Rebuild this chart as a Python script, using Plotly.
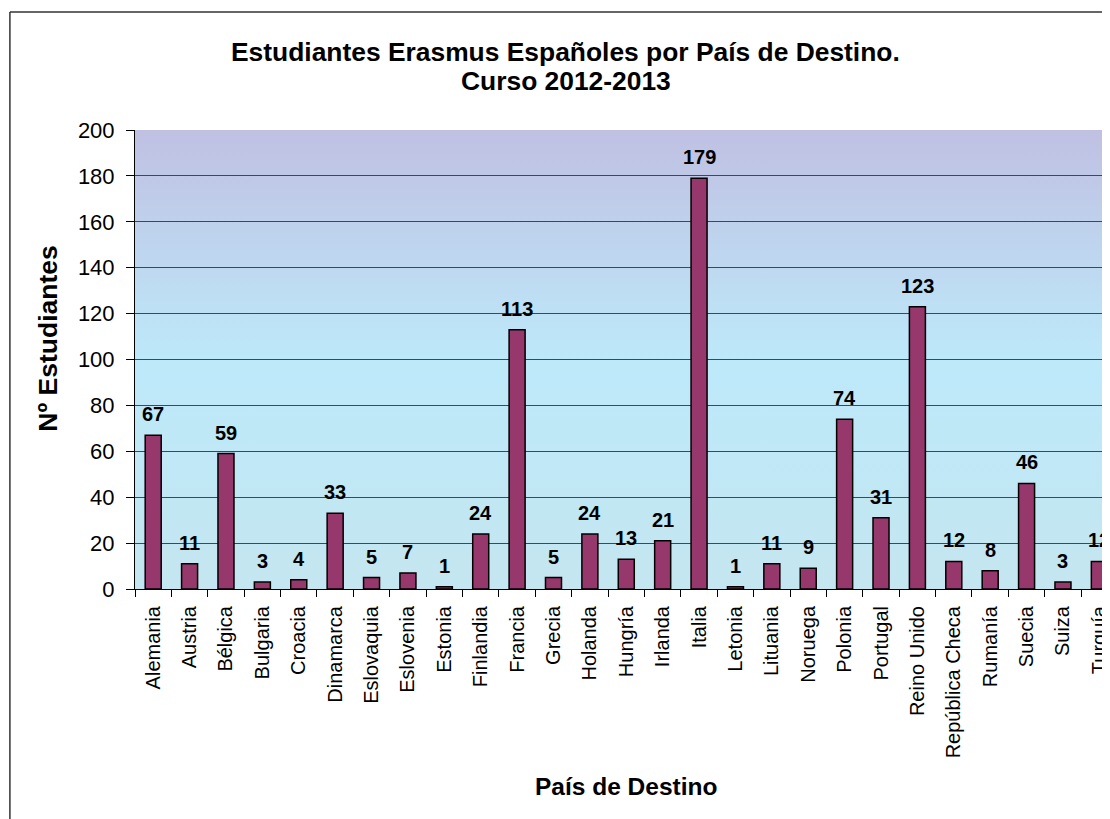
import base64
import plotly.graph_objects as go

# ---- data ----
paises = ["Alemania", "Austria", "Bélgica", "Bulgaria", "Croacia", "Dinamarca",
          "Eslovaquia", "Eslovenia", "Estonia", "Finlandia", "Francia", "Grecia",
          "Holanda", "Hungría", "Irlanda", "Italia", "Letonia", "Lituania",
          "Noruega", "Polonia", "Portugal", "Reino Unido", "República Checa",
          "Rumanía", "Suecia", "Suiza", "Turquía"]
estudiantes = [67, 11, 59, 3, 4, 33, 5, 7, 1, 24, 113, 5, 24, 13, 21, 179, 1, 11,
               9, 74, 31, 123, 12, 8, 46, 3, 12]
y_ticks = [0, 20, 40, 60, 80, 100, 120, 140, 160, 180, 200]

titulo_1 = "Estudiantes Erasmus Españoles por País de Destino."
titulo_2 = "Curso 2012-2013"
titulo_x = "País de Destino"
titulo_y = "Nº Estudiantes"

# ---- layout geometry ----
# page offset of the figure (default body margin of the html page)
OFF = 8
W, H = 1110 - OFF, 819 - OFF
PLOT_L, PLOT_T, PLOT_B = 135, 130, 589      # page pixels
ML, MR, MT = PLOT_L - OFF, 0, PLOT_T - OFF
MB = H - (PLOT_B - OFF)
PW, PH = W - ML - MR, H - MT - MB


def px_x(px):  # page pixel -> paper x
    return (px - OFF - ML) / PW


def px_y(py):  # page pixel -> paper y
    return (PLOT_B - py) / PH


FONT = "Liberation Sans, Arial, sans-serif"

svg = ('<svg xmlns="http://www.w3.org/2000/svg" width="100" height="100" '
       'viewBox="0 0 100 100" preserveAspectRatio="none"><defs>'
       '<linearGradient id="g" x1="0" y1="0" x2="0" y2="1">'
       '<stop offset="0" stop-color="#c0c0e2"/>'
       '<stop offset="0.5" stop-color="#bde9fa"/>'
       '<stop offset="1" stop-color="#c4e6f0"/>'
       '</linearGradient></defs>'
       '<rect x="0" y="0" width="100" height="100" fill="url(#g)"/></svg>')
svg_uri = "data:image/svg+xml;base64," + base64.b64encode(svg.encode()).decode()

fig = go.Figure()
fig.add_trace(go.Bar(
    x=paises, y=estudiantes,
    marker=dict(color="#96386b", line=dict(color="#000000", width=1.5)),
    hoverinfo="x+y",
))

annotations = []
for p, v in zip(paises, estudiantes):
    annotations.append(dict(
        x=p, y=v, xref="x", yref="y", text=str(v), showarrow=False,
        yanchor="bottom", yshift=8,
        font=dict(family=FONT, size=20, color="#000000", weight="bold")))

annotations += [
    dict(x=px_x(569), y=px_y(52), xref="paper", yref="paper", text="<b>%s</b>" % titulo_1,
         showarrow=False, xanchor="center", yanchor="middle",
         font=dict(family=FONT, size=26.4, color="#000000")),
    dict(x=px_x(569), y=px_y(81), xref="paper", yref="paper", text="<b>%s</b>" % titulo_2,
         showarrow=False, xanchor="center", yanchor="middle",
         font=dict(family=FONT, size=26.4, color="#000000")),
    dict(x=px_x(630), y=px_y(786), xref="paper", yref="paper", text="<b>%s</b>" % titulo_x,
         showarrow=False, xanchor="center", yanchor="middle",
         font=dict(family=FONT, size=24.5, color="#000000")),
    dict(x=px_x(47), y=px_y(339), xref="paper", yref="paper", text="<b>%s</b>" % titulo_y,
         showarrow=False, xanchor="center", yanchor="middle", textangle=-90,
         font=dict(family=FONT, size=26.5, color="#000000")),
]

fig.update_layout(
    width=W, height=H,
    margin=dict(l=ML, r=MR, t=MT, b=MB, pad=0),
    paper_bgcolor="#ffffff",
    plot_bgcolor="rgba(0,0,0,0)",
    showlegend=False,
    bargap=0.56,
    font=dict(family=FONT, color="#000000"),
    annotations=annotations,
    images=[dict(source=svg_uri, xref="paper", yref="paper", x=0, y=1,
                 sizex=1, sizey=1, xanchor="left", yanchor="top",
                 sizing="stretch", layer="below")],
    shapes=[
        dict(type="line", xref="paper", yref="paper",
             x0=px_x(9), x1=px_x(1130), y0=px_y(12), y1=px_y(12),
             line=dict(color="#333333", width=1.5)),
        dict(type="line", xref="paper", yref="paper",
             x0=px_x(9), x1=px_x(9), y0=px_y(12), y1=px_y(840),
             line=dict(color="#333333", width=1.5)),
    ],
    xaxis=dict(
        type="category", range=[-0.5, 26.1],
        tickangle=-90, tickfont=dict(family=FONT, size=20, color="#000000"),
        ticks="outside", ticklen=7, tickcolor="#000000", tickwidth=1,
        tickson="boundaries", ticklabelstandoff=8,
        showline=True, linecolor="#000000", linewidth=1,
        showgrid=False, zeroline=False, fixedrange=True,
    ),
    yaxis=dict(
        range=[0, 200], tickvals=y_ticks,
        tickfont=dict(family=FONT, size=22, color="#000000"),
        ticks="outside", ticklen=8, tickcolor="#000000", tickwidth=1,
        ticklabelstandoff=7,
        showline=True, linecolor="#000000", linewidth=1,
        showgrid=True, gridcolor="#474747", gridwidth=1,
        zeroline=False, fixedrange=True,
    ),
)

fig.write_html("out.html")
